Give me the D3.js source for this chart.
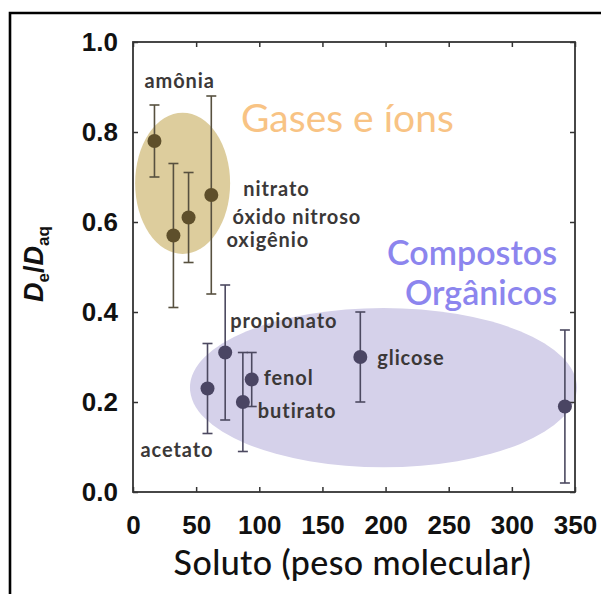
<!DOCTYPE html>
<html>
<head>
<meta charset="utf-8">
<script src="https://cdn.jsdelivr.net/npm/d3@7/dist/d3.min.js"></script>
<style>
  html, body { margin: 0; padding: 0; background: #fff; }
  svg { display: block; }
</style>
</head>
<body>
<div id="chart"></div>
<script>
// Gases e íons
const gasNames = ['amônia', 'oxigênio', 'óxido nitroso', 'nitrato'];
const gasMW = [17, 32, 44, 62];
const gasDe = [0.78, 0.57, 0.61, 0.66];
const gasLo = [0.70, 0.41, 0.51, 0.44];
const gasHi = [0.86, 0.73, 0.71, 0.88];

// Compostos orgânicos (last one has no label in the figure)
const orgNames = ['acetato', 'propionato', 'butirato', 'fenol', 'glicose', ''];
const orgMW = [59, 73, 87, 94, 180, 342];
const orgDe = [0.23, 0.31, 0.20, 0.25, 0.30, 0.19];
const orgLo = [0.13, 0.16, 0.09, 0.19, 0.20, 0.02];
const orgHi = [0.33, 0.46, 0.31, 0.31, 0.40, 0.36];

// group ellipses in data units: [cx, cy, rx, ry]
const gasBlob = [39.3, 0.686, 37.6, 0.157];
const orgBlob = [198.3, 0.232, 153.2, 0.177];

const xTicks = [0, 50, 100, 150, 200, 250, 300, 350];
const yTicks = [0, 0.2, 0.4, 0.6, 0.8, 1.0];

const W = 601, H = 594;
const PLOT = { left: 133, right: 575, top: 42, bottom: 492 };

const svg = d3.select('#chart').append('svg')
  .attr('width', W).attr('height', H);

const x = d3.scaleLinear().domain([0, 350]).range([PLOT.left, PLOT.right]);
const y = d3.scaleLinear().domain([0, 1]).range([PLOT.bottom, PLOT.top]);

// outer frame (top + left edges only are visible)
svg.append('path')
  .attr('d', `M10,${H} L10,13 L${W},13`)
  .attr('fill', 'none')
  .attr('stroke', '#000')
  .attr('stroke-width', 2.6);

// background ellipses
function blob(b, colour) {
  svg.append('ellipse')
    .attr('cx', x(b[0]))
    .attr('cy', y(b[1]))
    .attr('rx', x(b[2]) - x(0))
    .attr('ry', y(0) - y(b[3]))
    .attr('fill', colour);
}
blob(gasBlob, '#ddcd9d');
blob(orgBlob, '#d5d1ea');

// axes: inward ticks on every side
const tickFont = "bold 26px 'Liberation Sans', Arial, sans-serif";
function styleAxis(g) {
  g.select('.domain').remove();
  g.selectAll('line').attr('stroke', '#333').attr('stroke-width', 1.5);
  g.selectAll('text').style('font', tickFont).attr('fill', '#111');
}
svg.append('g')
  .attr('transform', `translate(0,${PLOT.bottom})`)
  .call(d3.axisBottom(x).tickValues(xTicks).tickSizeInner(-5).tickSizeOuter(0).tickPadding(24))
  .call(styleAxis);
svg.append('g')
  .attr('transform', `translate(0,${PLOT.top})`)
  .call(d3.axisTop(x).tickValues(xTicks).tickSizeInner(-5).tickSizeOuter(0).tickFormat(''))
  .call(styleAxis);
svg.append('g')
  .attr('transform', `translate(${PLOT.left},0)`)
  .call(d3.axisLeft(y).tickValues(yTicks).tickSizeInner(-5).tickSizeOuter(0).tickPadding(15).tickFormat(d3.format('.1f')))
  .call(styleAxis);
svg.append('g')
  .attr('transform', `translate(${PLOT.right},0)`)
  .call(d3.axisRight(y).tickValues(yTicks).tickSizeInner(-5).tickSizeOuter(0).tickFormat(''))
  .call(styleAxis);

svg.append('rect')
  .attr('x', PLOT.left).attr('y', PLOT.top)
  .attr('width', PLOT.right - PLOT.left)
  .attr('height', PLOT.bottom - PLOT.top)
  .attr('fill', 'none')
  .attr('stroke', '#333')
  .attr('stroke-width', 1.8);

// error bars + points
function series(mw, de, lo, hi, barColour, dotColour) {
  const g = svg.append('g');
  mw.forEach((m, i) => {
    const cx = x(m);
    g.append('line')
      .attr('x1', cx).attr('x2', cx)
      .attr('y1', y(lo[i])).attr('y2', y(hi[i]))
      .attr('stroke', barColour).attr('stroke-width', 1.6);
    for (const v of [lo[i], hi[i]]) {
      g.append('line')
        .attr('x1', cx - 5).attr('x2', cx + 5)
        .attr('y1', y(v)).attr('y2', y(v))
        .attr('stroke', barColour).attr('stroke-width', 1.6);
    }
  });
  mw.forEach((m, i) => {
    g.append('circle')
      .attr('cx', x(m)).attr('cy', y(de[i]))
      .attr('r', 7)
      .attr('fill', dotColour);
  });
}
series(gasMW, gasDe, gasLo, gasHi, '#57503f', '#5e4f2b');
series(orgMW, orgDe, orgLo, orgHi, '#4c4960', '#4a4563');

// point labels, offset from their point in px
const labelFont = "bold 20px Lato, 'Open Sans', sans-serif";
const gasOffsets = [[-10, -53], [53, 11], [44, 6], [32, 1]];
const orgOffsets = [[-67, 68], [5, -25], [15, 16], [12, 5], [17, 8], [0, 0]];
function labels(names, mw, de, offsets) {
  names.forEach((n, i) => {
    if (!n) return;
    svg.append('text')
      .attr('x', x(mw[i]) + offsets[i][0])
      .attr('y', y(de[i]) + offsets[i][1])
      .style('font', labelFont)
      .style('letter-spacing', '0.9px')
      .attr('fill', '#3b3838')
      .text(n);
  });
}
labels(gasNames, gasMW, gasDe, gasOffsets);
labels(orgNames, orgMW, orgDe, orgOffsets);

// group titles
svg.append('text')
  .attr('x', 241).attr('y', 132)
  .style('font', "39px Lato, 'Open Sans', sans-serif")
  .attr('fill', '#f8c384')
  .text('Gases e íons');
const orgFont = "600 34px Lato, 'Open Sans', sans-serif";
svg.append('text')
  .attr('x', 557).attr('y', 265)
  .attr('text-anchor', 'end')
  .style('font', orgFont)
  .attr('fill', '#8c85ee')
  .text('Compostos');
svg.append('text')
  .attr('x', 557).attr('y', 305)
  .attr('text-anchor', 'end')
  .style('font', orgFont)
  .attr('fill', '#8c85ee')
  .text('Orgânicos');

// axis titles
svg.append('text')
  .attr('x', (175 + 530) / 2).attr('y', 575)
  .attr('text-anchor', 'middle')
  .style('font', "500 34px Lato, 'Open Sans', sans-serif")
  .style('letter-spacing', '0.4px')
  .attr('fill', '#111')
  .text('Soluto (peso molecular)');

const yt = svg.append('text')
  .attr('transform', 'translate(43,264) rotate(-90)')
  .attr('text-anchor', 'middle')
  .style('font', "bold 27px 'Liberation Sans', Arial, sans-serif")
  .attr('fill', '#111');
yt.append('tspan').style('font-style', 'italic').text('D');
yt.append('tspan').attr('dy', 6).style('font-size', '17px').text('e');
yt.append('tspan').attr('dy', -6).text('/');
yt.append('tspan').style('font-style', 'italic').text('D');
yt.append('tspan').attr('dy', 6).style('font-size', '17px').text('aq');
</script>
</body>
</html>
